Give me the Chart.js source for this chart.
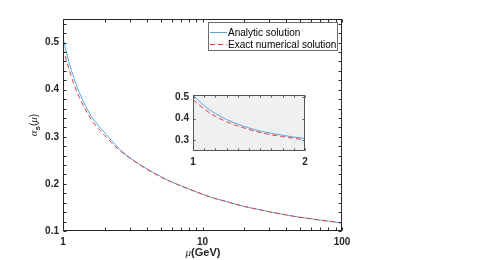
<!DOCTYPE html>
<html>
<head>
<meta charset="utf-8">
<script src="https://cdn.jsdelivr.net/npm/chart.js@4.4.1/dist/chart.umd.min.js"></script>
<style>
  html, body { margin: 0; padding: 0; background: #ffffff; }
  #wrap { position: relative; width: 488px; height: 260px; }
  #main { position: absolute; left: 0; top: 0; }
  #inset { position: absolute; left: 160px; top: 85px; }
</style>
</head>
<body>
<div id="wrap">
  <canvas id="main" width="488" height="260"></canvas>
  <canvas id="inset" width="155" height="85"></canvas>
</div>
<script>
// ---- data ----
const mu = [1, 1.1, 1.2, 1.3, 1.4, 1.5, 1.6, 1.7, 1.8, 1.9, 2, 2.5, 3, 4, 5, 6, 7, 8, 10, 12, 15, 20, 25, 30, 40, 50, 60, 70, 80, 100];
const alphaAnalytic = [0.510, 0.460, 0.424, 0.396, 0.375, 0.357, 0.343, 0.332, 0.323, 0.315, 0.308, 0.276, 0.256, 0.232, 0.216, 0.204, 0.196, 0.189, 0.178, 0.170, 0.162, 0.152, 0.146, 0.141, 0.134, 0.129, 0.126, 0.123, 0.121, 0.117];
const alphaNumeric  = [0.488, 0.445, 0.411, 0.386, 0.366, 0.350, 0.336, 0.325, 0.317, 0.309, 0.302, 0.273, 0.255, 0.231, 0.215, 0.204, 0.196, 0.189, 0.178, 0.170, 0.162, 0.152, 0.146, 0.141, 0.134, 0.129, 0.126, 0.123, 0.121, 0.117];
const seriesNames = ["Analytic solution", "Exact numerical solution"];

const xTicksMain = [1, 10, 100];
const xMinorMain = [2,3,4,5,6,7,8,9,20,30,40,50,60,70,80,90];
const yTicksMain = [0.1, 0.2, 0.3, 0.4, 0.5];
const yMinorMain = [0.12,0.14,0.16,0.18,0.22,0.24,0.26,0.28,0.32,0.34,0.36,0.38,0.42,0.44,0.46,0.48,0.52,0.54];
const xTicksInset = [1, 2];
const xMinorInset = [1.1,1.2,1.3,1.4,1.5,1.6,1.7,1.8,1.9];
const yTicksInset = [0.3, 0.4, 0.5];

const BLUE = '#4fa8ea';
const RED = '#f03a3a';
const AX = '#262626';

function pts(ys) { return mu.map((m, i) => ({ x: m, y: ys[i] })); }
function makeDatasets() {
  return [
    { label: seriesNames[0], data: pts(alphaAnalytic), borderColor: BLUE, borderWidth: 1, pointRadius: 0, cubicInterpolationMode: 'monotone', order: 1 },
    { label: seriesNames[1], data: pts(alphaNumeric), borderColor: RED, borderWidth: 1, borderDash: [5, 3], pointRadius: 0, cubicInterpolationMode: 'monotone', order: 0 }
  ];
}

function setTicks(values) {
  return function (scale) { scale.ticks = values.map(v => ({ value: v })); };
}

function frameTicks(chart, opts) {
  const ctx = chart.ctx, a = chart.chartArea;
  const xs = chart.scales.x, ys = chart.scales.y;
  const L = Math.round(a.left) + 0.5, R = Math.round(a.right) - 0.5;
  const T = Math.round(a.top) + 0.5, B = Math.round(a.bottom) - 0.5;
  ctx.save();
  ctx.strokeStyle = opts.color;
  ctx.lineWidth = 1;
  ctx.beginPath();
  const tl = opts.tickLen;
  const xv = opts.xMajor.concat(opts.xMinor);
  xv.forEach(v => {
    const px = Math.round(xs.getPixelForValue(v)) + 0.5;
    ctx.moveTo(px, B); ctx.lineTo(px, B - tl);
    ctx.moveTo(px, T); ctx.lineTo(px, T + tl);
  });
  const yv = opts.yMajor.concat(opts.yMinor);
  yv.forEach(v => {
    const py = Math.round(ys.getPixelForValue(v)) + 0.5;
    ctx.moveTo(L, py); ctx.lineTo(L + tl, py);
    ctx.moveTo(R, py); ctx.lineTo(R - tl, py);
  });
  ctx.stroke();
  ctx.strokeRect(L, T, R - L, B - T);
  ctx.restore();
}

const mainPlugin = {
  id: 'mainDecor',
  afterDraw(chart) {
    frameTicks(chart, { color: AX, tickLen: 3, xMajor: xTicksMain, xMinor: xMinorMain, yMajor: yTicksMain, yMinor: yMinorMain });
    const ctx = chart.ctx;
    ctx.save();
    // legend
    const lx = 208.5, ly = 22.5, lw = 129, lh = 28;
    ctx.fillStyle = '#ffffff';
    ctx.fillRect(lx, ly, lw, lh);
    ctx.strokeStyle = '#6b6b6b';
    ctx.lineWidth = 1;
    ctx.strokeRect(lx, ly, lw, lh);
    const ds = chart.data.datasets;
    const rows = [32, 44];
    ds.forEach((d, i) => {
      ctx.beginPath();
      ctx.strokeStyle = d.borderColor;
      ctx.setLineDash(d.borderDash || []);
      ctx.moveTo(210, rows[i] + 0.5);
      ctx.lineTo(227, rows[i] + 0.5);
      ctx.stroke();
      ctx.setLineDash([]);
      ctx.fillStyle = '#000000';
      ctx.font = '10px "Liberation Sans", Arial, sans-serif';
      ctx.textBaseline = 'middle';
      ctx.textAlign = 'left';
      ctx.fillText(d.label, 228, rows[i] + 1);
    });
    // y axis title: alpha_s(mu)
    ctx.translate(37, 125);
    ctx.rotate(-Math.PI / 2);
    ctx.fillStyle = AX;
    ctx.textBaseline = 'alphabetic';
    ctx.textAlign = 'left';
    const fA = 'italic 11px "Liberation Serif", serif';
    const fS = 'bold 8px "Liberation Sans", Arial, sans-serif';
    const fP = '10px "Liberation Sans", Arial, sans-serif';
    const parts = [
      { t: 'α', f: fA, dy: 0 },
      { t: 's', f: fS, dy: 3 },
      { t: '(', f: fP, dy: 0 },
      { t: 'μ', f: fA, dy: 0 },
      { t: ')', f: fP, dy: 0 }
    ];
    let total = 0;
    parts.forEach(p => { ctx.font = p.f; p.w = ctx.measureText(p.t).width; total += p.w; });
    let x0 = -total / 2;
    parts.forEach(p => { ctx.font = p.f; ctx.fillText(p.t, x0, p.dy); x0 += p.w; });
    ctx.restore();
    // x axis title: mu(GeV)
    ctx.save();
    ctx.fillStyle = AX;
    ctx.textBaseline = 'alphabetic';
    ctx.textAlign = 'left';
    const xp = [
      { t: 'μ', f: 'italic 11px "Liberation Serif", serif' },
      { t: '(GeV)', f: 'bold 11px "Liberation Sans", Arial, sans-serif' }
    ];
    let tw = 0;
    xp.forEach(p => { ctx.font = p.f; p.w = ctx.measureText(p.t).width; tw += p.w; });
    let xx = 203 - tw / 2;
    xp.forEach(p => { ctx.font = p.f; ctx.fillText(p.t, xx, 256); xx += p.w; });
    ctx.restore();
  }
};

const tickFont = { family: '"Liberation Sans", Arial, sans-serif', size: 10, weight: 'bold' };

new Chart(document.getElementById('main'), {
  type: 'line',
  data: { datasets: makeDatasets() },
  options: {
    responsive: false,
    animation: false,
    events: [],
    layout: { padding: { top: 19, right: 146, left: 0, bottom: 0 } },
    plugins: { legend: { display: false }, tooltip: { enabled: false } },
    scales: {
      x: {
        type: 'logarithmic', min: 1, max: 100,
        grid: { display: false, drawTicks: false }, border: { display: false },
        afterBuildTicks: setTicks(xTicksMain),
        afterFit(scale) { scale.height = 29; },
        ticks: { font: tickFont, color: AX, padding: 5, maxRotation: 0, autoSkip: false, callback: v => String(v) }
      },
      y: {
        type: 'linear', min: 0.1, max: 0.55,
        grid: { display: false, drawTicks: false }, border: { display: false },
        afterBuildTicks: setTicks(yTicksMain),
        afterFit(scale) { scale.width = 63; },
        ticks: { font: tickFont, color: AX, padding: 4, autoSkip: false, callback: v => v.toFixed(1) }
      }
    }
  },
  plugins: [mainPlugin]
});

const insetPlugin = {
  id: 'insetDecor',
  beforeDatasetsDraw(chart) {
    const a = chart.chartArea, ctx = chart.ctx;
    ctx.save();
    ctx.fillStyle = '#f0f0f0';
    ctx.fillRect(a.left, a.top, a.right - a.left, a.bottom - a.top);
    ctx.restore();
  },
  afterDraw(chart) {
    frameTicks(chart, { color: '#555555', tickLen: 2, xMajor: xTicksInset, xMinor: xMinorInset, yMajor: yTicksInset, yMinor: [] });
  }
};

new Chart(document.getElementById('inset'), {
  type: 'line',
  data: { datasets: makeDatasets() },
  options: {
    responsive: false,
    animation: false,
    events: [],
    layout: { padding: { top: 7, right: 10, left: 0, bottom: 0 } },
    plugins: { legend: { display: false }, tooltip: { enabled: false } },
    scales: {
      x: {
        type: 'linear', min: 1, max: 2,
        grid: { display: false, drawTicks: false }, border: { display: false },
        afterBuildTicks: setTicks(xTicksInset),
        afterFit(scale) { scale.height = 19; },
        ticks: { font: tickFont, color: AX, padding: 5, maxRotation: 0, autoSkip: false, callback: v => String(v) }
      },
      y: {
        type: 'linear', min: 0.25, max: 0.51,
        grid: { display: false, drawTicks: false }, border: { display: false },
        afterBuildTicks: setTicks(yTicksInset),
        afterFit(scale) { scale.width = 33; },
        ticks: { font: tickFont, color: AX, padding: 4, autoSkip: false, callback: v => v.toFixed(1) }
      }
    }
  },
  plugins: [insetPlugin]
});
</script>
</body>
</html>
